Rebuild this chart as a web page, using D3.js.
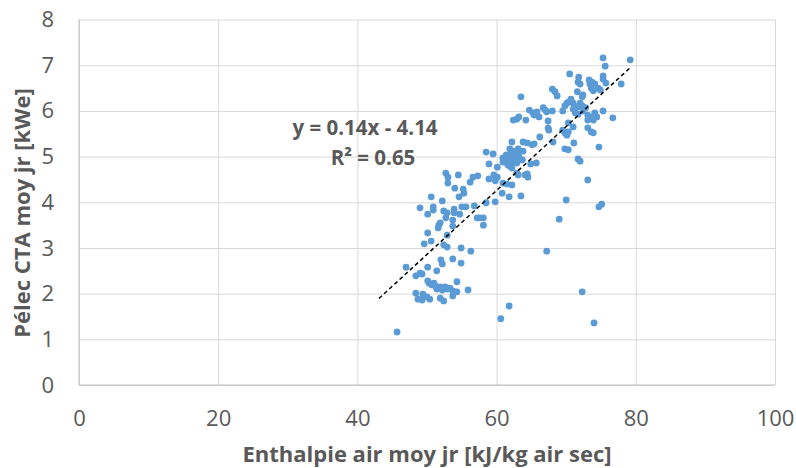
<!DOCTYPE html>
<html>
<head>
<meta charset="utf-8">
<script src="https://cdn.jsdelivr.net/npm/d3@7"></script>
<style>
  body { margin: 0; background: #fff; }
  svg text { font-family: "Open Sans", Lato, sans-serif; fill: #595959; }
</style>
</head>
<body>
<div id="chart"></div>
<script>
// Données
const enthalpie = [
  45.7, 61.8, 60.6, 72.3, 74.0, 67.2, 69.0, 70.0, 73.1, 74.7, 75.1,
  47.0, 50.1, 52.0, 52.2, 53.7, 54.9, 51.4, 48.4, 49.0, 49.3, 50.1, 50.3, 50.7, 51.2, 51.9,
  51.4, 52.2, 52.9, 53.3, 53.7, 54.3, 54.3, 55.9, 48.4, 49.4, 50.0, 50.4, 48.7, 49.3, 51.9,
  52.4, 53.7, 51.0, 52.6,
  52.7, 53.0, 54.5, 53.0, 54.0, 55.2, 55.3, 54.6, 50.6, 52.2, 49.0, 50.9, 50.9, 50.1, 52.4,
  52.9, 53.9, 53.9, 55.0, 55.6, 54.7, 52.7, 53.7, 51.9, 51.7, 51.6, 53.7, 50.1, 52.9, 50.6,
  49.6, 52.4, 52.9, 54.9, 56.3,
  56.6, 57.3, 56.2, 59.6, 60.1, 59.8, 58.9, 63.1, 64.4, 64.5, 60.9, 61.5, 62.2, 60.8, 61.8,
  63.5, 59.8, 58.5, 56.8, 57.2, 57.6, 58.1, 58.1, 62.9, 64.1, 58.9, 60.1, 58.5, 59.5, 64.9, 65.7,
  60.9, 61.5, 61.9, 62.4, 62.9, 62.2, 62.6, 63.1, 61.6, 63.7, 61.9, 62.4, 63.1, 63.8, 62.2,
  63.2, 61.8, 62.2, 60.9, 62.8, 61.4, 63.4,
  63.5, 68.0, 68.4, 68.7, 64.7, 65.2, 65.8, 66.7, 67.0, 67.2, 68.0, 62.4, 62.9, 63.2, 64.2,
  66.1, 67.4, 67.4, 67.5, 66.2, 62.2, 63.8, 64.4, 65.1, 65.4, 68.1, 65.4,
  75.3, 79.2, 75.6, 70.5, 71.8, 71.7, 72.0, 73.3, 73.4, 75.3, 75.3, 75.7, 77.9, 74.1, 74.6,
  74.9, 73.6, 73.9, 71.6, 72.4, 72.3, 70.7, 70.4, 70.1, 69.8, 71.0, 72.0, 72.3, 71.7, 71.0,
  71.3, 71.7, 72.4, 72.8, 73.1, 73.7, 74.1, 74.4, 73.9, 75.3, 76.7, 69.5, 69.5, 69.8, 70.1,
  70.3, 71.0, 73.1, 73.6, 73.9, 71.1, 74.7, 69.8, 70.3, 71.7, 72.0, 73.1, 70.3, 73.7
];
const pelec = [
  1.16, 1.73, 1.45, 2.04, 1.36, 2.93, 3.63, 4.05, 4.49, 3.90, 3.96,
  2.58, 2.58, 2.74, 2.65, 2.76, 2.67, 2.50, 2.39, 2.45, 2.43, 2.28, 2.23, 2.19, 2.17, 2.15,
  2.10, 2.08, 2.10, 2.12, 2.06, 2.26, 2.04, 2.08, 2.01, 1.99, 1.93, 1.88, 1.88, 1.86, 1.90,
  1.84, 1.95, 2.23, 2.15,
  4.64, 4.55, 4.60, 4.42, 4.31, 4.29, 4.20, 4.12, 4.12, 4.03, 3.88, 3.90, 3.83, 3.74, 3.81,
  3.77, 3.85, 3.77, 3.90, 3.90, 3.74, 3.66, 3.61, 3.55, 3.50, 3.44, 3.48, 3.33, 3.28, 3.15,
  3.09, 3.07, 3.02, 3.00, 2.93,
  4.55, 4.58, 4.44, 4.60, 4.55, 4.47, 4.51, 4.60, 4.62, 4.55, 4.42, 4.40, 4.38, 4.20, 4.12,
  4.14, 4.01, 3.99, 3.92, 3.66, 3.66, 3.66, 3.50, 4.64, 4.60, 4.84, 4.77, 5.10, 5.06, 4.84, 4.86,
  4.97, 4.93, 4.99, 4.88, 4.86, 5.08, 5.10, 5.04, 4.82, 4.93, 5.17, 5.12, 5.17, 5.12, 4.99,
  4.99, 4.80, 4.75, 4.88, 4.97, 5.04, 4.93,
  6.31, 6.48, 6.42, 6.33, 6.02, 5.96, 5.98, 6.07, 6.02, 5.98, 6.00, 5.80, 5.82, 5.87, 5.80,
  5.87, 5.78, 5.63, 5.58, 5.43, 5.32, 5.32, 5.30, 5.26, 5.28, 5.32, 5.91,
  7.16, 7.12, 6.98, 6.81, 6.74, 6.63, 6.59, 6.68, 6.59, 6.77, 6.70, 6.61, 6.59, 6.59, 6.50,
  6.46, 6.50, 6.44, 6.42, 6.35, 6.31, 6.26, 6.20, 6.17, 6.11, 6.17, 6.17, 6.11, 6.09, 6.04,
  5.96, 5.93, 6.00, 6.07, 5.91, 5.87, 5.96, 5.87, 5.80, 6.00, 5.85, 6.00, 5.58, 5.52, 5.47,
  5.54, 5.65, 5.63, 5.54, 5.52, 5.30, 5.21, 5.17, 5.15, 4.95, 4.90, 5.80, 5.74, 6.63
];
const xTicks = [0, 20, 40, 60, 80, 100];
const yTicks = [0, 1, 2, 3, 4, 5, 6, 7, 8];
const trendCoef = [0.14, -4.14];   // pente, ordonnée à l'origine
const trendRange = [43.1, 79.3];
const r2 = 0.65;

const width = 796, height = 468;
const margin = { left: 79, right: 21, top: 19.6, bottom: 83 };

const svg = d3.select("#chart")
    .append("svg")
    .attr("width", width)
    .attr("height", height);

const x = d3.scaleLinear().domain([0, 100]).range([margin.left, width - margin.right]);
const y = d3.scaleLinear().domain([0, 8]).range([height - margin.bottom, margin.top]);

// Grille verticale + étiquettes X
const gx = svg.append("g")
    .attr("transform", `translate(0,${height - margin.bottom})`)
    .call(d3.axisBottom(x).tickValues(xTicks).tickSize(-(y(0) - y(8))).tickPadding(25));
gx.select(".domain").remove();
gx.selectAll("line").attr("stroke", "#d9d9d9");
gx.selectAll("text").attr("font-size", 22).attr("fill", "#595959");

// Grille horizontale + étiquettes Y
const gy = svg.append("g")
    .attr("transform", `translate(${margin.left},0)`)
    .call(d3.axisLeft(y).tickValues(yTicks).tickSize(-(x(100) - x(0))).tickPadding(25));
gy.select(".domain").remove();
gy.selectAll("line").attr("stroke", "#d9d9d9");
gy.selectAll("text").attr("font-size", 22).attr("fill", "#595959");

// Axes en gris
svg.append("line")
    .attr("x1", x(0)).attr("x2", x(100)).attr("y1", y(0)).attr("y2", y(0))
    .attr("stroke", "#bfbfbf");
svg.append("line")
    .attr("x1", x(0)).attr("x2", x(0)).attr("y1", y(0)).attr("y2", y(8))
    .attr("stroke", "#bfbfbf");

// Points
const data = enthalpie.map((d, i) => ({ x: d, y: pelec[i] }));
svg.append("g")
    .selectAll("circle")
    .data(data)
    .enter()
    .append("circle")
    .attr("cx", d => x(d.x))
    .attr("cy", d => y(d.y))
    .attr("r", 3.4)
    .attr("fill", "#5b9bd5");

// Courbe de tendance linéaire
svg.append("line")
    .attr("x1", x(trendRange[0]))
    .attr("y1", y(trendCoef[0] * trendRange[0] + trendCoef[1]))
    .attr("x2", x(trendRange[1]))
    .attr("y2", y(trendCoef[0] * trendRange[1] + trendCoef[1]))
    .attr("stroke", "#000")
    .attr("stroke-width", 1.5)
    .attr("stroke-dasharray", "4,3");

// Équation
svg.append("text")
    .attr("x", 365).attr("y", 135)
    .attr("text-anchor", "middle")
    .attr("font-size", 20.5).attr("font-weight", "bold")
    .text(`y = ${trendCoef[0]}x - ${Math.abs(trendCoef[1])}`);
svg.append("text")
    .attr("x", 373).attr("y", 165)
    .attr("text-anchor", "middle")
    .attr("font-size", 20.5).attr("font-weight", "bold")
    .text(`R² = ${r2}`);

// Titres des axes
svg.append("text")
    .attr("x", (x(0) + x(100)) / 2).attr("y", 462)
    .attr("text-anchor", "middle")
    .attr("font-size", 22).attr("font-weight", "bold")
    .text("Enthalpie air moy jr [kJ/kg air sec]");
svg.append("text")
    .attr("transform", "translate(30,213) rotate(-90)")
    .attr("text-anchor", "middle")
    .attr("font-size", 22).attr("font-weight", "bold")
    .text("Pélec CTA moy jr [kWe]");
</script>
</body>
</html>
